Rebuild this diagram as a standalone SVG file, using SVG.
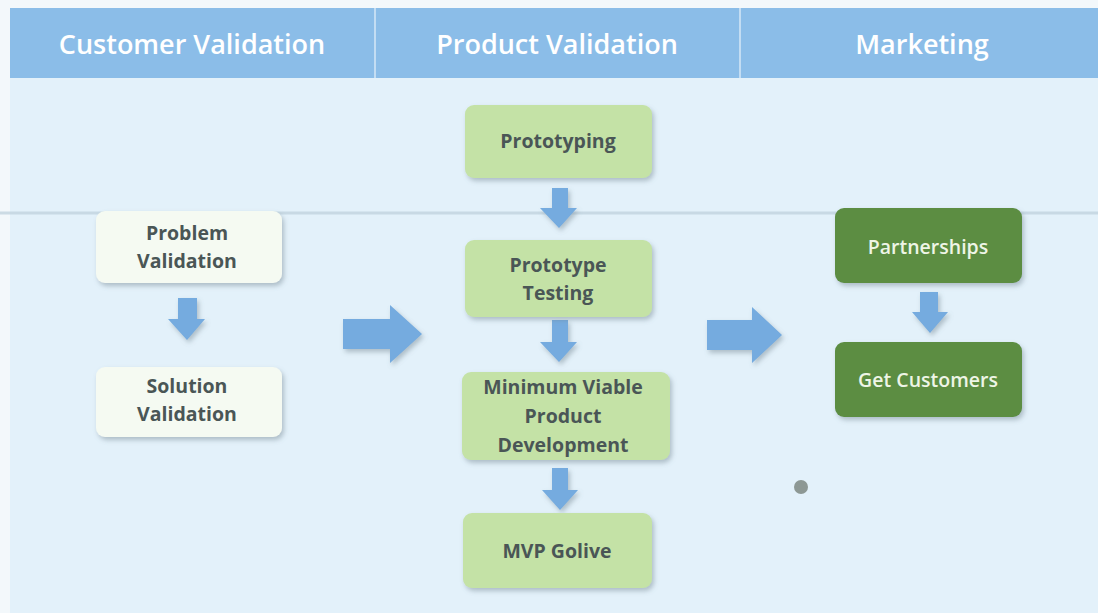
<svg xmlns="http://www.w3.org/2000/svg" width="1098" height="613" viewBox="0 0 1098 613">
<defs>
<filter id="sh" x="-10%" y="-10%" width="125%" height="130%">
<feDropShadow dx="2" dy="3" stdDeviation="2.5" flood-color="#6a7f8a" flood-opacity="0.45"/>
</filter>
<style>
.hdr{fill:#8bbde8}
.htxt{font-family:"Open Sans","Liberation Sans",sans-serif;font-weight:600;font-size:27px;fill:#ffffff;text-anchor:middle}
.ntxt{font-family:"Open Sans","Liberation Sans",sans-serif;font-weight:700;font-size:19.5px;fill:#4a5656;text-anchor:middle}
.wtxt{font-family:"Open Sans","Liberation Sans",sans-serif;font-weight:600;font-size:19.5px;fill:#eef5e6;text-anchor:middle}
.cv{fill:#f5faf2;filter:url(#sh)}
.pv{fill:#c4e2a6;filter:url(#sh)}
.mk{fill:#5c8d42;filter:url(#sh)}
.arr{fill:#74abdf;filter:url(#sh)}
</style>
</defs>
<rect x="0" y="0" width="1098" height="613" fill="#f3f8fb"/>
<rect x="10" y="78" width="1088" height="535" fill="#e3f1fa"/>
<rect class="hdr" x="10" y="8" width="1088" height="70"/>
<line x1="375" y1="8" x2="375" y2="78" stroke="#d6e9f7" stroke-width="1.5"/>
<line x1="740" y1="8" x2="740" y2="78" stroke="#d6e9f7" stroke-width="1.5"/>
<text class="htxt" x="192" y="54">Customer Validation</text>
<text class="htxt" x="557" y="54">Product Validation</text>
<text class="htxt" x="922" y="54">Marketing</text>
<line x1="0" y1="213" x2="1098" y2="213" stroke="#bfd2dd" stroke-width="3" opacity="0.75"/>
<circle cx="801" cy="487" r="7" fill="#8d9894"/>
<g id="connectors">
<path class="arr" d="M178,298 H197 V319 H205 L187,340 L168,319 H178 Z"/>
<path class="arr" d="M343,319 H390 V305 L422,334 L390,363 V349 H343 Z"/>
<path class="arr" d="M552,188 H568 V208 H577 L559,228 L540,208 H552 Z"/>
<path class="arr" d="M552,320 H568 V342 H577 L559,362 L540,342 H552 Z"/>
<path class="arr" d="M552,468 H568 V490 H578 L560,510 L542,490 H552 Z"/>
<path class="arr" d="M707,320 H752 V307 L782,335 L752,363 V350 H707 Z"/>
<path class="arr" d="M920,292 H938 V312 H948 L930,333 L912,312 H920 Z"/>
</g>
<g id="problem-validation">
<rect class="cv" x="96" y="211" width="186" height="72" rx="9"/>
<text class="ntxt" x="187" y="240">Problem</text>
<text class="ntxt" x="187" y="268">Validation</text>
</g>
<g id="solution-validation">
<rect class="cv" x="96" y="367" width="186" height="70" rx="9"/>
<text class="ntxt" x="187" y="393">Solution</text>
<text class="ntxt" x="187" y="421">Validation</text>
</g>
<g id="prototyping">
<rect class="pv" x="465" y="105" width="187" height="73" rx="9"/>
<text class="ntxt" x="558" y="148">Prototyping</text>
</g>
<g id="prototype-testing">
<rect class="pv" x="465" y="240" width="187" height="77" rx="9"/>
<text class="ntxt" x="558" y="272">Prototype</text>
<text class="ntxt" x="558" y="300">Testing</text>
</g>
<g id="mvp-development">
<rect class="pv" x="462" y="372" width="208" height="88" rx="9"/>
<text class="ntxt" x="563" y="394">Minimum Viable</text>
<text class="ntxt" x="563" y="423">Product</text>
<text class="ntxt" x="563" y="452">Development</text>
</g>
<g id="mvp-golive">
<rect class="pv" x="463" y="513" width="189" height="75" rx="9"/>
<text class="ntxt" x="557" y="558">MVP Golive</text>
</g>
<g id="partnerships">
<rect class="mk" x="835" y="208" width="187" height="75" rx="9"/>
<text class="wtxt" x="928" y="254">Partnerships</text>
</g>
<g id="get-customers">
<rect class="mk" x="835" y="342" width="187" height="75" rx="9"/>
<text class="wtxt" x="928" y="387">Get Customers</text>
</g>
</svg>
